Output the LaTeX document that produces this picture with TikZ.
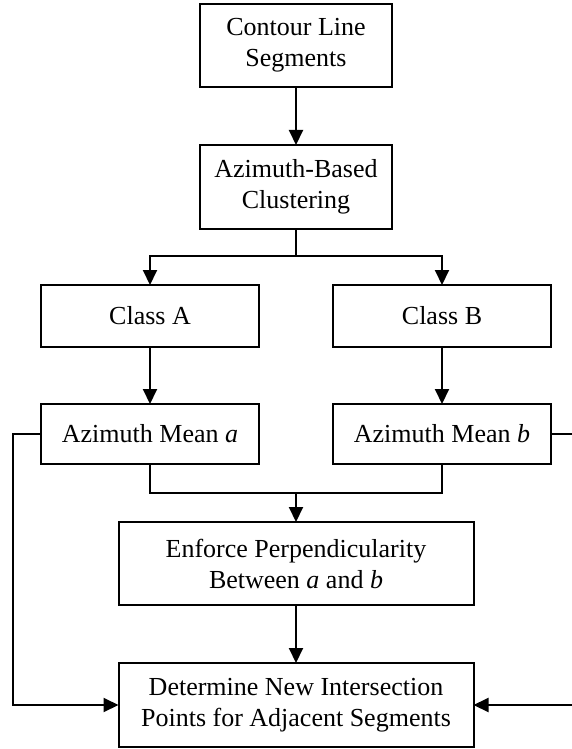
\documentclass[tikz,border=0pt]{standalone}
\usepackage{fontspec}
\setmainfont{Liberation Serif}
\usepackage{tikz}
\usetikzlibrary{arrows.meta,positioning,calc}

\begin{document}
\begin{tikzpicture}[x=1pt, y=1pt, >={Triangle[length=15pt,width=14pt]}, line width=2pt, node distance=58pt]
\tikzstyle{every node}=[font=\fontsize{26}{31}\selectfont]
\tikzstyle{block}=[draw=black, line width=2pt, fill=white, align=center, inner sep=0pt, outer sep=0pt]
\useasboundingbox (0,0) rectangle (572,-749);
\node[block, minimum width=192pt, minimum height=83pt] (contour) at (296,-45.5) {Contour Line\\Segments};
\node[block, minimum width=192pt, minimum height=84pt] (cluster) [below=of contour] {Azimuth-Based\\Clustering};
\node[block, minimum width=218pt, minimum height=62pt] (classA) at (150,-316) {Class A};
\node[block, minimum width=218pt, minimum height=62pt] (classB) [right=74pt of classA] {Class B};
\node[block, minimum width=218pt, minimum height=60pt] (meanA) [below=57pt of classA] {Azimuth Mean \textit{a}};
\node[block, minimum width=218pt, minimum height=60pt] (meanB) [below=57pt of classB] {Azimuth Mean \textit{b}};
\node[block, minimum width=355pt, minimum height=83pt] (enforce) at (296,-563.5) {Enforce Perpendicularity\\Between \textit{a} and \textit{b}};
\node[block, minimum width=355pt, minimum height=84pt] (determine) [below=of enforce] {Determine New Intersection\\Points for Adjacent Segments};
\coordinate (split) at (296,-256);
\coordinate (merge) at (296,-493);
% main column
\draw[->] (contour) -- (cluster);
\draw (cluster) -- (split);
\draw[->] (split) -| (classA);
\draw[->] (split) -| (classB);
\draw[->] (classA) -- (meanA);
\draw[->] (classB) -- (meanB);
\draw (meanA.south) |- (merge) -| (meanB.south);
\draw[->] (merge) -- (enforce);
\draw[->] (enforce) -- (determine);
% side returns
\draw[->] (meanA.west) -- ++(-28,0) |- (determine.west);
\draw[->] (meanB.east) -- ++(30,0) |- (determine.east);
\end{tikzpicture}
\end{document}
